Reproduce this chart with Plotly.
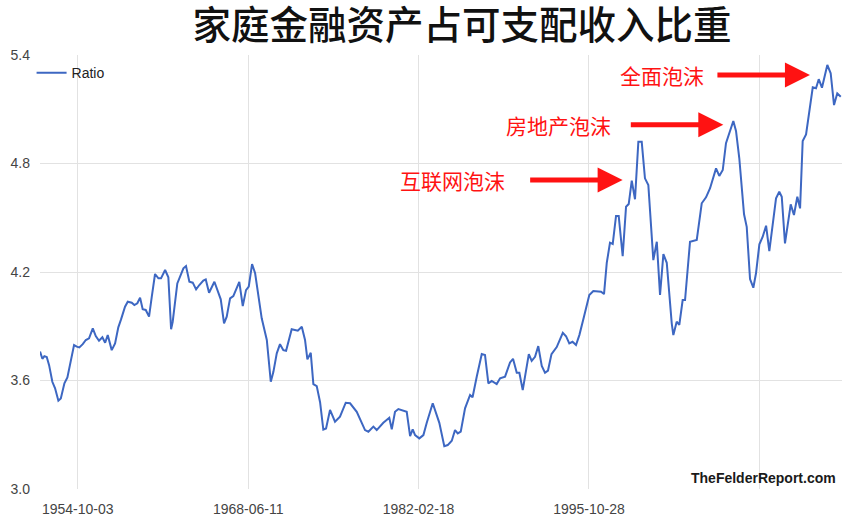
import plotly.graph_objects as go
import pandas as pd

years = [1951.725, 1951.91, 1952.07, 1952.26, 1952.45, 1952.71, 1952.93, 1953.195, 1953.39, 1953.68,
         1953.92, 1954.215, 1954.455, 1954.67, 1954.88, 1955.155, 1955.40, 1955.66, 1955.96, 1956.20,
         1956.46, 1956.73, 1956.95, 1957.16, 1957.48, 1957.75, 1958.01, 1958.23, 1958.55, 1958.77,
         1959.09, 1959.30, 1959.54, 1959.76, 1959.97, 1960.215, 1960.48, 1960.70, 1960.96, 1961.23,
         1961.44, 1961.77, 1962.03, 1962.25, 1962.38, 1962.75, 1962.97, 1963.24, 1963.45, 1963.72,
         1963.99, 1964.26, 1964.52, 1964.84, 1965.035, 1965.30, 1965.73, 1966.00, 1966.24, 1966.505,
         1966.72, 1966.99, 1967.25, 1967.73, 1968.01, 1968.27, 1968.49, 1968.755, 1969.00, 1969.53,
         1969.94, 1970.26, 1970.47, 1970.74, 1971.00, 1971.27, 1971.49, 1971.94, 1972.43, 1972.75,
         1973.01, 1973.20, 1973.47, 1973.68, 1973.95, 1974.22, 1974.48, 1974.70, 1975.02, 1975.42,
         1975.82, 1976.28, 1976.63, 1977.165, 1977.83, 1978.10, 1978.50, 1978.77, 1979.30, 1979.78,
         1979.98, 1980.24, 1980.51, 1981.18, 1981.45, 1981.66, 1981.85, 1982.19, 1982.52, 1982.79,
         1983.27, 1983.80, 1984.20, 1984.475, 1984.80, 1985.06, 1985.28, 1985.52, 1985.865, 1986.27,
         1986.47, 1986.805, 1987.21, 1987.47, 1987.74, 1988.01, 1988.41, 1988.68, 1989.08, 1989.48,
         1989.72, 1990.02, 1990.23, 1990.50, 1990.99, 1991.22, 1991.49, 1991.75, 1992.03, 1992.29,
         1992.53, 1992.81, 1993.23, 1993.72, 1993.98, 1994.24, 1994.50, 1994.78, 1995.05, 1995.42,
         1995.85, 1996.17, 1996.79, 1997.03, 1997.25, 1997.51, 1997.73, 1997.995, 1998.21, 1998.53,
         1998.80, 1999.015, 1999.26, 1999.52, 1999.79, 2000.06, 2000.32, 2000.59, 2000.99, 2001.27,
         2001.53, 2001.80, 2002.07, 2002.47, 2002.60, 2002.87, 2003.08, 2003.35, 2003.54, 2003.94,
         2004.48, 2004.88, 2005.225, 2005.55, 2006.03, 2006.29, 2006.57, 2006.83, 2007.10, 2007.42,
         2007.635, 2007.90, 2008.28, 2008.495, 2008.76, 2009.025, 2009.24, 2009.51, 2009.78, 2010.05,
         2010.31, 2010.85, 2011.11, 2011.31, 2011.57, 2012.03, 2012.29, 2012.56, 2012.78, 2012.99,
         2013.26, 2013.58, 2013.80, 2014.06, 2014.28, 2014.54, 2014.97, 2015.24, 2015.51, 2015.77,
         2016.05]

ratio = [3.76, 3.72, 3.735, 3.73, 3.685, 3.593, 3.557, 3.488, 3.50, 3.584,
         3.617, 3.713, 3.796, 3.787, 3.783, 3.801, 3.824, 3.833, 3.888, 3.846,
         3.82, 3.839, 3.809, 3.851, 3.768, 3.805, 3.894, 3.938, 4.008, 4.036,
         4.03, 4.017, 4.027, 4.058, 3.994, 3.99, 3.953, 4.064, 4.189, 4.165,
         4.165, 4.211, 4.171, 3.883, 3.925, 4.137, 4.174, 4.22, 4.233, 4.146,
         4.141, 4.104, 4.128, 4.152, 4.159, 4.085, 4.146, 4.091, 4.049, 3.916,
         3.953, 4.054, 4.067, 4.146, 4.012, 4.10, 4.119, 4.244, 4.193, 3.944,
         3.824, 3.593, 3.648, 3.75, 3.801, 3.768, 3.764, 3.883, 3.875, 3.897,
         3.824, 3.717, 3.753, 3.58, 3.569, 3.48, 3.329, 3.335, 3.437, 3.372,
         3.40, 3.477, 3.474, 3.427, 3.326, 3.317, 3.345, 3.326, 3.366, 3.394,
         3.33, 3.427, 3.442, 3.427, 3.293, 3.33, 3.298, 3.28, 3.298, 3.366,
         3.474, 3.366, 3.237, 3.243, 3.267, 3.326, 3.307, 3.317, 3.446, 3.52,
         3.507, 3.621, 3.746, 3.741, 3.584, 3.598, 3.58, 3.612, 3.621, 3.70,
         3.72, 3.643, 3.643, 3.547, 3.746, 3.709, 3.731, 3.79, 3.68, 3.643,
         3.655, 3.746, 3.785, 3.864, 3.845, 3.805, 3.814, 3.796, 3.851, 3.953,
         4.073, 4.095, 4.091, 4.078, 4.25, 4.362, 4.355, 4.51, 4.51, 4.288,
         4.561, 4.576, 4.705, 4.602, 4.92, 4.92, 4.718, 4.681, 4.266, 4.367,
         4.073, 4.299, 4.251, 3.916, 3.851, 3.925, 3.907, 4.045, 4.045, 4.367,
         4.377, 4.58, 4.613, 4.663, 4.773, 4.731, 4.764, 4.912, 4.972, 5.035,
         4.98, 4.829, 4.519, 4.45, 4.161, 4.113, 4.193, 4.353, 4.395, 4.456,
         4.316, 4.607, 4.644, 4.616, 4.358, 4.574, 4.515, 4.616, 4.552, 4.924,
         4.961, 5.114, 5.221, 5.216, 5.266, 5.219, 5.345, 5.299, 5.123, 5.188,
         5.169]

x_tick_dates = ["1954-10-03", "1968-06-11", "1982-02-18", "1995-10-28", "2009-07-06"]
x_tick_labels = ["1954-10-03", "1968-06-11", "1982-02-18", "1995-10-28", ""]
y_ticks = [3.0, 3.6, 4.2, 4.8, 5.4]
x_range_years = [1951.72, 2016.15]

title_text = "家庭金融资产占可支配收入比重"
bubble_labels = ["全面泡沫", "房地产泡沫", "互联网泡沫"]
series_name = "Ratio"
watermark = "TheFelderReport.com"


def to_date(y):
    yr = int(y)
    start = pd.Timestamp(year=yr, month=1, day=1)
    end = pd.Timestamp(year=yr + 1, month=1, day=1)
    return start + (end - start) * (y - yr)


dates = [to_date(v) for v in years]

fig = go.Figure()
fig.add_trace(go.Scatter(
    x=dates, y=ratio, mode="lines", name=series_name,
    line=dict(color="#3d67c2", width=2),
))

grid = "#e2e2e2"
tick_font = dict(family="Liberation Sans, Arial, sans-serif", size=14, color="#444444")

fig.update_layout(
    width=853, height=520,
    margin=dict(l=39.5, r=11, t=55, b=31),
    paper_bgcolor="white", plot_bgcolor="white",
    showlegend=True,
    legend=dict(x=-0.0105, y=0.995, xanchor="left", yanchor="top",
                bgcolor="rgba(0,0,0,0)", itemwidth=30,
                font=dict(family="Liberation Sans, Arial, sans-serif", size=14, color="#222222")),
    title=dict(text=title_text, x=0.5416, xanchor="center", y=0.951, yanchor="middle",
               yref="container",
               font=dict(family="Noto Sans CJK SC", size=38.5, color="#111111", weight=500)),
    xaxis=dict(type="date",
               range=[to_date(x_range_years[0]), to_date(x_range_years[1])],
               tickmode="array", tickvals=x_tick_dates, ticktext=x_tick_labels,
               showgrid=True, gridcolor=grid, gridwidth=1,
               zeroline=False, showline=False, ticks="",
               ticklabelstandoff=10, automargin=False,
               tickfont=tick_font),
    yaxis=dict(range=[3.0, 5.4], tickmode="array", tickvals=y_ticks,
               ticktext=[f"{v:.1f}" for v in y_ticks],
               showgrid=True, gridcolor=grid, gridwidth=1,
               zeroline=False, showline=False, ticks="",
               ticklabelstandoff=9, automargin=False,
               tickfont=tick_font),
)

red = "#ff1212"
arrows = [  # (label, tip x paper, tip y paper, text center x paper)
    (bubble_labels[0], 0.960, 0.954, 0.775),
    (bubble_labels[1], 0.852, 0.839, 0.647),
    (bubble_labels[2], 0.7265, 0.712, 0.514),
]
for label, tx, ty, cx in arrows:
    fig.add_annotation(x=tx, y=ty, xref="paper", yref="paper", text="",
                       showarrow=True, ax=-94, ay=0, arrowhead=2, arrowsize=1.0,
                       arrowwidth=5, arrowcolor=red, standoff=0)
    fig.add_annotation(x=cx, y=ty, xref="paper", yref="paper", text=label,
                       showarrow=False, xanchor="center", yanchor="middle",
                       font=dict(family="Noto Sans CJK SC", size=21, color=red))

fig.add_annotation(x=0.995, y=0.025, xref="paper", yref="paper", text=watermark,
                   showarrow=False, xanchor="right", yanchor="middle",
                   font=dict(family="Liberation Sans, Arial, sans-serif", size=14,
                             color="#1a1a1a", weight="bold"))

fig.write_html("out.html", config={"displayModeBar": False},
               post_script="document.body.style.margin='0';")
